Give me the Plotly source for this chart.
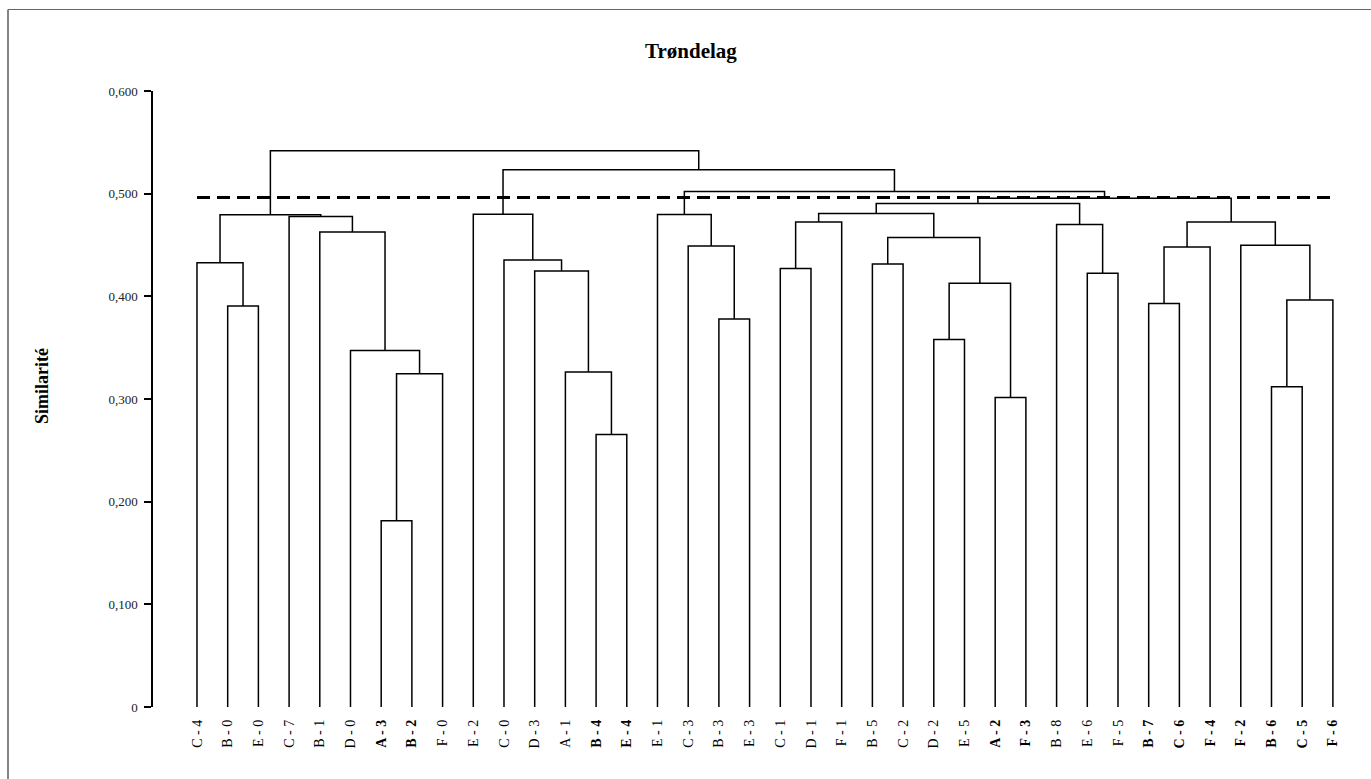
import plotly.graph_objects as go

# ---------------- data ----------------
leaf_labels = ["C - 4", "B - 0", "E - 0", "C - 7", "B - 1", "D - 0", "A - 3", "B - 2", "F - 0",
               "E - 2", "C - 0", "D - 3", "A - 1", "B - 4", "E - 4", "E - 1", "C - 3", "B - 3",
               "E - 3", "C - 1", "D - 1", "F - 1", "B - 5", "C - 2", "D - 2", "E - 5", "A - 2",
               "F - 3", "B - 8", "E - 6", "F - 5", "B - 7", "C - 6", "F - 4", "F - 2", "B - 6",
               "C - 5", "F - 6"]
bold_leaves = ["A - 3", "B - 2", "B - 4", "E - 4", "A - 2", "F - 3", "B - 7", "C - 6",
               "F - 4", "F - 2", "B - 6", "C - 5", "F - 6"]

# merges: ids < 38 are leaves, id 38+k is merge k
merge_left = [6, 13, 26, 35, 38, 12, 5, 24, 17, 1, 31, 41, 45, 29, 11, 19, 22, 0, 10,
              48, 16, 34, 54, 4, 28, 53, 57, 3, 55, 15, 9, 63, 69, 70, 67, 68, 66]
merge_right = [7, 14, 27, 36, 8, 39, 42, 25, 18, 2, 32, 37, 40, 30, 43, 20, 23, 47, 52,
               33, 46, 49, 50, 44, 51, 21, 59, 61, 65, 58, 56, 60, 62, 64, 71, 72, 73]
merge_height = [0.1815, 0.2654, 0.3015, 0.3119, 0.3246, 0.3262, 0.3473, 0.3580, 0.3780,
                0.3906, 0.3929, 0.3964, 0.4127, 0.4224, 0.4247, 0.4270, 0.4315, 0.4328,
                0.4354, 0.4481, 0.4490, 0.4498, 0.4573, 0.4627, 0.4700, 0.4725, 0.4725,
                0.4777, 0.4795, 0.4797, 0.4800, 0.4806, 0.4904, 0.4956, 0.5020, 0.5232,
                0.5417]
cut_level = 0.4963

y_tickvals = [0, 0.1, 0.2, 0.3, 0.4, 0.5, 0.6]
y_ticktext = ["0", "0,100", "0,200", "0,300", "0,400", "0,500", "0,600"]

# ---------------- dendrogram geometry ----------------
n = len(leaf_labels)
pos = {i: float(i) for i in range(n)}
hgt = {i: 0.0 for i in range(n)}
xs, ys = [], []
for k, (a, b, h) in enumerate(zip(merge_left, merge_right, merge_height)):
    xa, xb = pos[a], pos[b]
    xs += [xa, xa, xb, xb, None]
    ys += [hgt[a], h, h, hgt[b], None]
    pos[n + k] = (xa + xb) / 2
    hgt[n + k] = h

fig = go.Figure()
fig.add_trace(go.Scatter(x=xs, y=ys, mode="lines",
                         line=dict(color="black", width=1.5),
                         hoverinfo="skip", showlegend=False))
fig.add_trace(go.Scatter(x=[0, n - 1], y=[cut_level, cut_level], mode="lines",
                         line=dict(color="black", width=3, dash="13px,7px"),
                         hoverinfo="skip", showlegend=False))

tick_text = [f"<b>{t}</b>" if t in bold_leaves else t for t in leaf_labels]

serif = "Liberation Serif, Times New Roman, serif"
fig.update_layout(
    width=1371, height=779,
    margin=dict(l=153, r=20, t=91, b=72),
    paper_bgcolor="white", plot_bgcolor="white",
    font=dict(family=serif, color="black"),
    title=dict(text="<b>Trøndelag</b>", x=0.504, xanchor="center",
               y=1 - 51 / 779, yanchor="middle", yref="container",
               font=dict(size=21, family=serif, color="black")),
    xaxis=dict(range=[-1.433, 37.59], tickmode="array",
               tickvals=list(range(n)), ticktext=tick_text, tickangle=-90,
               showline=False, showgrid=False, zeroline=False, ticks="",
               ticklabelstandoff=9, tickfont=dict(size=14, family=serif, color="black")),
    yaxis=dict(range=[0, 0.6], tickmode="array", tickvals=y_tickvals, ticktext=y_ticktext,
               showline=True, linecolor="black", linewidth=1.5, ticks="outside",
               ticklen=7, tickwidth=1.5, tickcolor="black", showgrid=False, zeroline=False,
               ticklabelstandoff=4,
               tickfont=dict(size=13, family=serif, color="#222")),
    annotations=[dict(text="<b>Similarité</b>", textangle=-90, xref="paper", yref="paper",
                      x=(42 - 153) / 1198, y=(707 - 386) / 616, xanchor="center",
                      yanchor="middle", showarrow=False,
                      font=dict(size=18, family=serif, color="black"))],
    shapes=[
        dict(type="line", xref="paper", yref="paper", x0=(8 - 153) / 1198, x1=(8 - 153) / 1198,
             y0=-(779 - 707) / 616 - 0.05, y1=1 + (91 - 9.5) / 616,
             line=dict(color="#333", width=1.2)),
        dict(type="line", xref="paper", yref="paper", x0=(8 - 153) / 1198, x1=1.05,
             y0=1 + (91 - 9.5) / 616, y1=1 + (91 - 9.5) / 616,
             line=dict(color="#666", width=1.2)),
    ],
)

fig.write_html("out.html", config={"displayModeBar": False},
               post_script="document.body.style.margin='0';")
